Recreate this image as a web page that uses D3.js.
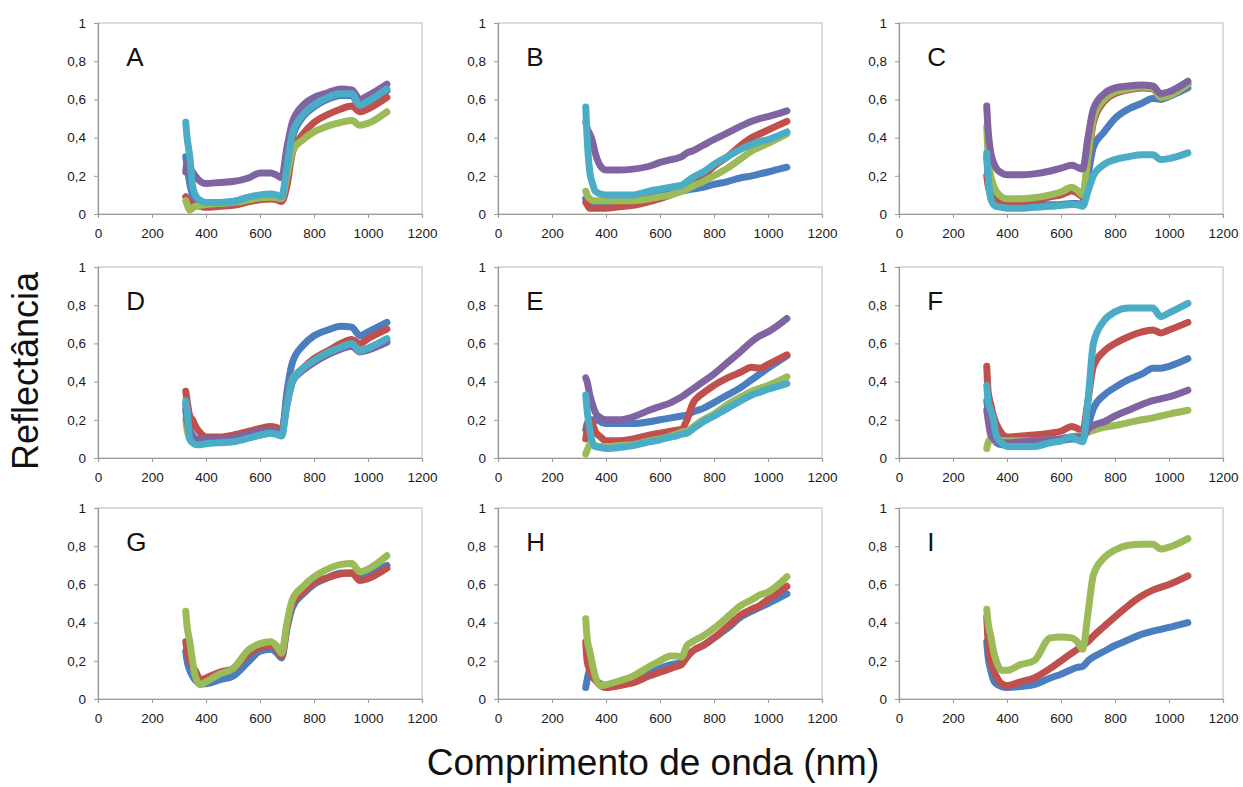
<!DOCTYPE html>
<html>
<head>
<meta charset="utf-8">
<script src="https://cdn.jsdelivr.net/npm/d3@7"></script>
<style>
  body { margin: 0; background: #ffffff; }
  svg { display: block; }
  .tick text { font-family: 'Liberation Sans', Arial, sans-serif; font-size: 13.5px; fill: #1a1a1a; }
</style>
</head>
<body>
<svg width="1243" height="787"></svg>
<script>
const svgWidth = 1243;
const svgHeight = 787;

// wavelengths (nm) shared by every series
const wavelengths = [ 325, 330, 340, 350, 360, 380, 400, 450, 500, 560, 600, 640,
                      660, 680, 700, 720, 760, 800, 850, 900, 940, 970, 1000, 1070 ];

const xTicks = [ 0, 200, 400, 600, 800, 1000, 1200 ];
const yTicks = [ 0, 0.2, 0.4, 0.6, 0.8, 1 ];
const panelLetters = [ 'A', 'B', 'C', 'D', 'E', 'F', 'G', 'H', 'I' ];

// panel A
const aBlue   = [ 0.30, 0.25, 0.16, 0.10, 0.08, 0.065, 0.06, 0.06, 0.065, 0.085, 0.095, 0.10, 0.095, 0.085, 0.22, 0.40, 0.51, 0.56, 0.60, 0.62, 0.62, 0.565, 0.585, 0.645 ];
const aRed    = [ 0.09, 0.08, 0.06, 0.05, 0.045, 0.04, 0.035, 0.04, 0.045, 0.065, 0.075, 0.078, 0.075, 0.065, 0.15, 0.32, 0.42, 0.48, 0.52, 0.55, 0.565, 0.535, 0.55, 0.61 ];
const aGreen  = [ 0.07, 0.05, 0.02, 0.03, 0.04, 0.045, 0.05, 0.055, 0.06, 0.075, 0.085, 0.088, 0.085, 0.08, 0.20, 0.33, 0.39, 0.43, 0.46, 0.48, 0.49, 0.465, 0.475, 0.535 ];
const aPurple = [ 0.22, 0.27, 0.24, 0.22, 0.20, 0.17, 0.16, 0.165, 0.17, 0.19, 0.215, 0.215, 0.205, 0.19, 0.35, 0.48, 0.57, 0.61, 0.635, 0.655, 0.65, 0.60, 0.62, 0.68 ];
const aCyan   = [ 0.48, 0.40, 0.30, 0.15, 0.10, 0.07, 0.06, 0.06, 0.065, 0.09, 0.10, 0.105, 0.10, 0.09, 0.25, 0.42, 0.52, 0.57, 0.61, 0.63, 0.63, 0.57, 0.59, 0.655 ];

// panel B
const bBlue   = [ 0.08, 0.07, 0.06, 0.06, 0.06, 0.065, 0.065, 0.068, 0.07, 0.09, 0.10, 0.11, 0.115, 0.12, 0.125, 0.13, 0.14, 0.155, 0.17, 0.19, 0.20, 0.21, 0.22, 0.245 ];
const bRed    = [ 0.06, 0.05, 0.03, 0.03, 0.03, 0.03, 0.03, 0.038, 0.045, 0.065, 0.08, 0.10, 0.11, 0.12, 0.14, 0.16, 0.20, 0.25, 0.30, 0.36, 0.40, 0.42, 0.44, 0.485 ];
const bGreen  = [ 0.12, 0.10, 0.08, 0.07, 0.07, 0.07, 0.07, 0.07, 0.07, 0.08, 0.09, 0.10, 0.11, 0.12, 0.13, 0.145, 0.17, 0.20, 0.24, 0.29, 0.33, 0.35, 0.37, 0.42 ];
const bPurple = [ 0.48, 0.45, 0.42, 0.38, 0.32, 0.25, 0.23, 0.23, 0.235, 0.25, 0.27, 0.285, 0.29, 0.30, 0.32, 0.33, 0.36, 0.39, 0.425, 0.46, 0.485, 0.50, 0.51, 0.54 ];
const bCyan   = [ 0.56, 0.40, 0.22, 0.16, 0.12, 0.105, 0.10, 0.10, 0.10, 0.12, 0.13, 0.14, 0.145, 0.15, 0.17, 0.19, 0.22, 0.26, 0.30, 0.34, 0.365, 0.38, 0.39, 0.43 ];

// panel C
const cBlue   = [ 0.30, 0.20, 0.10, 0.07, 0.06, 0.05, 0.05, 0.045, 0.045, 0.048, 0.05, 0.055, 0.055, 0.05, 0.20, 0.35, 0.43, 0.50, 0.55, 0.58, 0.605, 0.60, 0.615, 0.66 ];
const cRed    = [ 0.20, 0.15, 0.10, 0.08, 0.07, 0.065, 0.06, 0.065, 0.07, 0.09, 0.10, 0.12, 0.11, 0.09, 0.28, 0.48, 0.59, 0.63, 0.65, 0.66, 0.655, 0.61, 0.62, 0.68 ];
const cGreen  = [ 0.46, 0.30, 0.20, 0.15, 0.12, 0.09, 0.08, 0.08, 0.085, 0.10, 0.115, 0.14, 0.125, 0.10, 0.30, 0.50, 0.60, 0.64, 0.655, 0.665, 0.66, 0.61, 0.62, 0.68 ];
const cPurple = [ 0.565, 0.44, 0.32, 0.27, 0.24, 0.215, 0.205, 0.205, 0.21, 0.225, 0.24, 0.255, 0.245, 0.235, 0.40, 0.55, 0.63, 0.66, 0.67, 0.675, 0.67, 0.63, 0.64, 0.695 ];
const cCyan   = [ 0.32, 0.20, 0.08, 0.05, 0.04, 0.035, 0.03, 0.03, 0.035, 0.04, 0.045, 0.05, 0.048, 0.04, 0.12, 0.20, 0.26, 0.285, 0.30, 0.31, 0.31, 0.285, 0.29, 0.32 ];

// panel D
const dBlue   = [ 0.28, 0.22, 0.15, 0.12, 0.10, 0.09, 0.09, 0.095, 0.10, 0.12, 0.13, 0.14, 0.135, 0.125, 0.35, 0.50, 0.59, 0.64, 0.67, 0.69, 0.685, 0.64, 0.66, 0.71 ];
const dRed    = [ 0.35, 0.30, 0.22, 0.20, 0.17, 0.13, 0.11, 0.11, 0.12, 0.14, 0.155, 0.165, 0.16, 0.15, 0.28, 0.40, 0.47, 0.52, 0.56, 0.60, 0.62, 0.60, 0.625, 0.675 ];
const dGreen  = [ 0.20, 0.15, 0.10, 0.09, 0.085, 0.08, 0.08, 0.085, 0.09, 0.11, 0.12, 0.13, 0.125, 0.12, 0.30, 0.41, 0.47, 0.51, 0.55, 0.58, 0.595, 0.56, 0.575, 0.615 ];
const dPurple = [ 0.25, 0.20, 0.13, 0.11, 0.10, 0.10, 0.10, 0.10, 0.105, 0.125, 0.14, 0.145, 0.14, 0.13, 0.30, 0.40, 0.46, 0.50, 0.54, 0.57, 0.585, 0.555, 0.565, 0.605 ];
const dCyan   = [ 0.30, 0.25, 0.10, 0.08, 0.07, 0.07, 0.075, 0.08, 0.085, 0.105, 0.12, 0.13, 0.125, 0.115, 0.28, 0.40, 0.47, 0.51, 0.55, 0.58, 0.60, 0.56, 0.575, 0.625 ];

// panel E
const eBlue   = [ 0.15, 0.18, 0.20, 0.20, 0.20, 0.19, 0.18, 0.18, 0.18, 0.19, 0.20, 0.21, 0.215, 0.22, 0.225, 0.24, 0.26, 0.29, 0.33, 0.37, 0.41, 0.44, 0.47, 0.535 ];
const eRed    = [ 0.10, 0.15, 0.20, 0.18, 0.14, 0.11, 0.09, 0.09, 0.10, 0.12, 0.13, 0.14, 0.145, 0.15, 0.20, 0.28, 0.34, 0.38, 0.42, 0.45, 0.475, 0.47, 0.49, 0.54 ];
const eGreen  = [ 0.02, 0.04, 0.07, 0.07, 0.065, 0.06, 0.06, 0.065, 0.07, 0.09, 0.10, 0.115, 0.125, 0.135, 0.14, 0.16, 0.20, 0.23, 0.28, 0.32, 0.35, 0.365, 0.38, 0.425 ];
const ePurple = [ 0.42, 0.40, 0.33, 0.28, 0.24, 0.21, 0.20, 0.20, 0.215, 0.25, 0.27, 0.29, 0.305, 0.32, 0.34, 0.36, 0.40, 0.44, 0.50, 0.56, 0.61, 0.64, 0.66, 0.73 ];
const eCyan   = [ 0.33, 0.25, 0.15, 0.08, 0.06, 0.055, 0.05, 0.055, 0.065, 0.085, 0.095, 0.11, 0.115, 0.125, 0.13, 0.15, 0.19, 0.22, 0.26, 0.30, 0.33, 0.345, 0.36, 0.39 ];

// panel F
const fBlue   = [ 0.30, 0.25, 0.15, 0.10, 0.08, 0.07, 0.07, 0.07, 0.07, 0.085, 0.09, 0.10, 0.10, 0.10, 0.17, 0.26, 0.33, 0.37, 0.41, 0.44, 0.47, 0.47, 0.48, 0.52 ];
const fRed    = [ 0.48, 0.35, 0.28, 0.22, 0.18, 0.13, 0.11, 0.115, 0.12, 0.13, 0.14, 0.165, 0.155, 0.14, 0.30, 0.48, 0.56, 0.60, 0.635, 0.66, 0.67, 0.655, 0.67, 0.71 ];
const fGreen  = [ 0.05, 0.08, 0.10, 0.09, 0.09, 0.09, 0.09, 0.09, 0.09, 0.095, 0.10, 0.11, 0.115, 0.12, 0.135, 0.145, 0.16, 0.17, 0.185, 0.20, 0.21, 0.22, 0.23, 0.25 ];
const fPurple = [ 0.25, 0.20, 0.12, 0.10, 0.09, 0.08, 0.08, 0.085, 0.09, 0.095, 0.10, 0.11, 0.11, 0.11, 0.15, 0.17, 0.19, 0.22, 0.25, 0.28, 0.30, 0.31, 0.32, 0.355 ];
const fCyan   = [ 0.38, 0.30, 0.25, 0.20, 0.12, 0.08, 0.06, 0.06, 0.06, 0.08, 0.09, 0.11, 0.095, 0.085, 0.30, 0.60, 0.72, 0.765, 0.785, 0.785, 0.785, 0.74, 0.76, 0.81 ];

// panel G
const gBlue   = [ 0.25, 0.20, 0.15, 0.12, 0.10, 0.08, 0.08, 0.10, 0.12, 0.20, 0.25, 0.26, 0.245, 0.215, 0.37, 0.48, 0.55, 0.60, 0.635, 0.66, 0.66, 0.64, 0.655, 0.70 ];
const gRed    = [ 0.30, 0.25, 0.20, 0.17, 0.15, 0.10, 0.11, 0.14, 0.16, 0.24, 0.27, 0.28, 0.265, 0.225, 0.38, 0.50, 0.56, 0.61, 0.635, 0.655, 0.66, 0.62, 0.63, 0.685 ];
const gGreen  = [ 0.46, 0.38, 0.30, 0.20, 0.12, 0.075, 0.09, 0.13, 0.16, 0.26, 0.29, 0.30, 0.28, 0.24, 0.40, 0.52, 0.59, 0.64, 0.68, 0.705, 0.71, 0.665, 0.68, 0.75 ];

// panel H
const hBlue   = [ 0.06, 0.10, 0.15, 0.12, 0.10, 0.08, 0.07, 0.08, 0.10, 0.14, 0.16, 0.18, 0.185, 0.19, 0.22, 0.25, 0.28, 0.32, 0.37, 0.43, 0.46, 0.48, 0.50, 0.55 ];
const hRed    = [ 0.30, 0.20, 0.15, 0.12, 0.10, 0.07, 0.06, 0.07, 0.085, 0.12, 0.14, 0.16, 0.17, 0.18, 0.22, 0.25, 0.28, 0.32, 0.38, 0.44, 0.47, 0.49, 0.52, 0.59 ];
const hGreen  = [ 0.42, 0.32, 0.25, 0.18, 0.12, 0.07, 0.075, 0.095, 0.12, 0.17, 0.20, 0.225, 0.225, 0.22, 0.28, 0.30, 0.33, 0.37, 0.43, 0.49, 0.52, 0.545, 0.56, 0.64 ];

// panel I
const iBlue   = [ 0.30, 0.22, 0.15, 0.10, 0.08, 0.065, 0.06, 0.065, 0.075, 0.11, 0.13, 0.155, 0.165, 0.17, 0.20, 0.22, 0.25, 0.28, 0.31, 0.34, 0.355, 0.365, 0.375, 0.40 ];
const iRed    = [ 0.43, 0.30, 0.20, 0.15, 0.12, 0.08, 0.07, 0.09, 0.11, 0.16, 0.20, 0.24, 0.26, 0.28, 0.30, 0.33, 0.38, 0.43, 0.49, 0.54, 0.57, 0.585, 0.60, 0.645 ];
const iGreen  = [ 0.47, 0.40, 0.33, 0.25, 0.20, 0.15, 0.15, 0.18, 0.20, 0.32, 0.325, 0.32, 0.30, 0.26, 0.45, 0.65, 0.74, 0.78, 0.805, 0.81, 0.81, 0.785, 0.795, 0.84 ];

// excel 2007 palette
const colors = { blue: '#4a7ebf', red: '#c0504d', green: '#9bbb59', purple: '#8064a2', cyan: '#4bacc6' };

// series per panel, in drawing order (last on top)
const panels = [
  [ [ 'blue', aBlue ], [ 'red', aRed ], [ 'green', aGreen ], [ 'purple', aPurple ], [ 'cyan', aCyan ] ],
  [ [ 'blue', bBlue ], [ 'red', bRed ], [ 'green', bGreen ], [ 'purple', bPurple ], [ 'cyan', bCyan ] ],
  [ [ 'blue', cBlue ], [ 'red', cRed ], [ 'green', cGreen ], [ 'purple', cPurple ], [ 'cyan', cCyan ] ],
  [ [ 'blue', dBlue ], [ 'red', dRed ], [ 'green', dGreen ], [ 'purple', dPurple ], [ 'cyan', dCyan ] ],
  [ [ 'blue', eBlue ], [ 'red', eRed ], [ 'green', eGreen ], [ 'purple', ePurple ], [ 'cyan', eCyan ] ],
  [ [ 'blue', fBlue ], [ 'red', fRed ], [ 'green', fGreen ], [ 'purple', fPurple ], [ 'cyan', fCyan ] ],
  [ [ 'blue', gBlue ], [ 'red', gRed ], [ 'green', gGreen ] ],
  [ [ 'blue', hBlue ], [ 'red', hRed ], [ 'green', hGreen ] ],
  [ [ 'blue', iBlue ], [ 'red', iRed ], [ 'green', iGreen ] ]
];

const colLeft = [ 98, 498, 899 ];
const rowTop = [ 23, 267, 508 ];
const plotW = 324;
const plotH = 191;

const svg = d3.select( 'svg' );

const x = d3.scaleLinear().domain( [ 0, 1200 ] ).range( [ 0, plotW ] );
const y = d3.scaleLinear().domain( [ 0, 1 ] ).range( [ plotH, 0 ] );

const commaFmt = ( d ) => d3.format( '.1~f' )( d ).replace( '.', ',' );

const line = d3.line()
  .x( ( d ) => x( d[ 0 ] ) )
  .y( ( d ) => y( d[ 1 ] ) )
  .curve( d3.curveMonotoneX );

panels.forEach( function( series, i ) {
  let g = svg.append( 'g' )
    .attr( 'transform', 'translate(' + colLeft[ i % 3 ] + ',' + rowTop[ Math.floor( i / 3 ) ] + ')' );

  // frame
  g.append( 'rect' )
    .attr( 'width', plotW )
    .attr( 'height', plotH )
    .attr( 'fill', 'none' )
    .attr( 'stroke', '#c4c4c4' )
    .attr( 'stroke-width', 1.2 );

  let xAxis = g.append( 'g' )
    .attr( 'transform', 'translate(0,' + plotH + ')' )
    .call( d3.axisBottom( x ).tickValues( xTicks ).tickFormat( d3.format( 'd' ) ).tickSize( 4 ).tickPadding( 10 ) );

  let yAxis = g.append( 'g' )
    .call( d3.axisLeft( y ).tickValues( yTicks ).tickFormat( commaFmt ).tickSize( 4 ).tickPadding( 8 ) );

  [ xAxis, yAxis ].forEach( ( a ) => {
    a.select( '.domain' ).attr( 'stroke', '#9a9a9a' ).attr( 'stroke-width', 1.2 );
    a.selectAll( '.tick line' ).attr( 'stroke', '#9a9a9a' );
  } );

  series.forEach( function( s ) {
    let pts = wavelengths.map( ( w, k ) => [ w, s[ 1 ][ k ] ] );
    g.append( 'path' )
      .datum( pts )
      .attr( 'd', line )
      .attr( 'fill', 'none' )
      .attr( 'stroke', colors[ s[ 0 ] ] )
      .attr( 'stroke-width', 7 )
      .attr( 'stroke-linecap', 'round' )
      .attr( 'stroke-linejoin', 'round' );
  } );

  g.append( 'text' )
    .attr( 'x', x( 105 ) )
    .attr( 'y', y( 0.775 ) )
    .attr( 'font-family', "'Liberation Sans', Arial, sans-serif" )
    .attr( 'font-size', '26px' )
    .attr( 'fill', '#111' )
    .text( panelLetters[ i ] );
} );

// axis titles
svg.append( 'text' )
  .attr( 'transform', 'translate(38,371) rotate(-90)' )
  .attr( 'text-anchor', 'middle' )
  .attr( 'font-family', "'Liberation Sans', Arial, sans-serif" )
  .attr( 'font-size', '36px' )
  .attr( 'fill', '#111' )
  .text( 'Reflectância' );

svg.append( 'text' )
  .attr( 'x', 653 )
  .attr( 'y', 775 )
  .attr( 'text-anchor', 'middle' )
  .attr( 'font-family', "'Liberation Sans', Arial, sans-serif" )
  .attr( 'font-size', '37px' )
  .attr( 'fill', '#111' )
  .text( 'Comprimento de onda (nm)' );
</script>
</body>
</html>
